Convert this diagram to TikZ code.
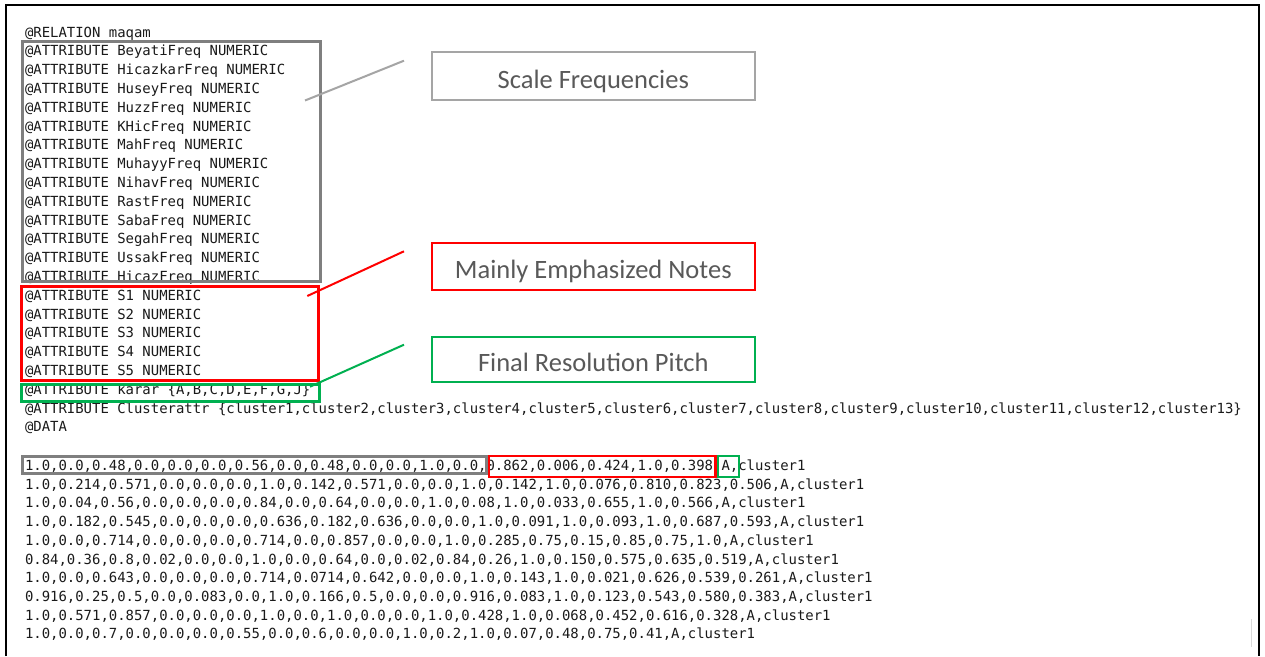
\documentclass[tikz,border=0pt]{standalone}
\usepackage{fontspec}
\newfontfamily\codefont{DejaVu Sans Mono}
\newfontfamily\labelfont{Carlito}
\definecolor{boxgray}{HTML}{7F7F7F}
\definecolor{lightgray2}{HTML}{A5A5A5}
\definecolor{mred}{HTML}{FF0000}
\definecolor{mgreen}{HTML}{00B050}
\definecolor{labeltext}{HTML}{595959}
\definecolor{codetext}{HTML}{1A1A1A}
\tikzset{
  code/.style={font=\codefont\fontsize{13.94}{16}\selectfont, text=codetext, anchor=base west, inner sep=0pt, outer sep=0pt},
  labelbox/.style={draw, line width=2pt, minimum width=323, inner sep=0pt,
    text height=24pt, text depth=0pt,
    font=\labelfont\fontsize{26.5}{30}\selectfont, text=labeltext},
  hlbox/.style={line width=3pt},
  leader/.style={line width=2pt},
}
\begin{document}
\begin{tikzpicture}[x=1pt,y=-1pt]
\useasboundingbox (0,0) rectangle (1265,656);
\fill[white] (0,0) rectangle (1265,656);

% outer frame
\draw[line width=2pt, black] (6,656) -- (6,5) -- (1259.3,5) -- (1259.3,656);
\draw[line width=1.5pt, black!15] (1251.7,619) -- (1251.7,647);

% header lines
\node[code] (h1)  at (25, 37.0)  {@RELATION maqam};
\node[code] (h2)  at (25, 55.8)  {@ATTRIBUTE BeyatiFreq NUMERIC};
\node[code] (h3)  at (25, 74.6)  {@ATTRIBUTE HicazkarFreq NUMERIC};
\node[code] (h4)  at (25, 93.4)  {@ATTRIBUTE HuseyFreq NUMERIC};
\node[code] (h5)  at (25, 112.2) {@ATTRIBUTE HuzzFreq NUMERIC};
\node[code] (h6)  at (25, 131.0) {@ATTRIBUTE KHicFreq NUMERIC};
\node[code] (h7)  at (25, 149.8) {@ATTRIBUTE MahFreq NUMERIC};
\node[code] (h8)  at (25, 168.6) {@ATTRIBUTE MuhayyFreq NUMERIC};
\node[code] (h9)  at (25, 187.4) {@ATTRIBUTE NihavFreq NUMERIC};
\node[code] (h10) at (25, 206.2) {@ATTRIBUTE RastFreq NUMERIC};
\node[code] (h11) at (25, 225.0) {@ATTRIBUTE SabaFreq NUMERIC};
\node[code] (h12) at (25, 243.8) {@ATTRIBUTE SegahFreq NUMERIC};
\node[code] (h13) at (25, 262.6) {@ATTRIBUTE UssakFreq NUMERIC};
\node[code] (h14) at (25, 281.4) {@ATTRIBUTE HicazFreq NUMERIC};
\node[code] (h15) at (25, 300.2) {@ATTRIBUTE S1 NUMERIC};
\node[code] (h16) at (25, 319.0) {@ATTRIBUTE S2 NUMERIC};
\node[code] (h17) at (25, 337.8) {@ATTRIBUTE S3 NUMERIC};
\node[code] (h18) at (25, 356.6) {@ATTRIBUTE S4 NUMERIC};
\node[code] (h19) at (25, 375.4) {@ATTRIBUTE S5 NUMERIC};
\node[code] (h20) at (25, 394.2) {@ATTRIBUTE karar \{A,B,C,D,E,F,G,J\}};
\node[code] (h21) at (25, 413.0) {@ATTRIBUTE Clusterattr \{cluster1,cluster2,cluster3,cluster4,cluster5,cluster6,cluster7,cluster8,cluster9,cluster10,cluster11,cluster12,cluster13\}};
\node[code] (h22) at (25, 431.8) {@DATA};

% data lines
\node[code] (d1)  at (25, 470.5) {1.0,0.0,0.48,0.0,0.0,0.0,0.56,0.0,0.48,0.0,0.0,1.0,0.0,0.862,0.006,0.424,1.0,0.398,A,cluster1};
\node[code] (d2)  at (25, 489.2) {1.0,0.214,0.571,0.0,0.0,0.0,1.0,0.142,0.571,0.0,0.0,1.0,0.142,1.0,0.076,0.810,0.823,0.506,A,cluster1};
\node[code] (d3)  at (25, 507.9) {1.0,0.04,0.56,0.0,0.0,0.0,0.84,0.0,0.64,0.0,0.0,1.0,0.08,1.0,0.033,0.655,1.0,0.566,A,cluster1};
\node[code] (d4)  at (25, 526.6) {1.0,0.182,0.545,0.0,0.0,0.0,0.636,0.182,0.636,0.0,0.0,1.0,0.091,1.0,0.093,1.0,0.687,0.593,A,cluster1};
\node[code] (d5)  at (25, 545.3) {1.0,0.0,0.714,0.0,0.0,0.0,0.714,0.0,0.857,0.0,0.0,1.0,0.285,0.75,0.15,0.85,0.75,1.0,A,cluster1};
\node[code] (d6)  at (25, 564.0) {0.84,0.36,0.8,0.02,0.0,0.0,1.0,0.0,0.64,0.0,0.02,0.84,0.26,1.0,0.150,0.575,0.635,0.519,A,cluster1};
\node[code] (d7)  at (25, 582.7) {1.0,0.0,0.643,0.0,0.0,0.0,0.714,0.0714,0.642,0.0,0.0,1.0,0.143,1.0,0.021,0.626,0.539,0.261,A,cluster1};
\node[code] (d8)  at (25, 601.4) {0.916,0.25,0.5,0.0,0.083,0.0,1.0,0.166,0.5,0.0,0.0,0.916,0.083,1.0,0.123,0.543,0.580,0.383,A,cluster1};
\node[code] (d9)  at (25, 620.1) {1.0,0.571,0.857,0.0,0.0,0.0,1.0,0.0,1.0,0.0,0.0,1.0,0.428,1.0,0.068,0.452,0.616,0.328,A,cluster1};
\node[code] (d10) at (25, 638.8) {1.0,0.0,0.7,0.0,0.0,0.0,0.55,0.0,0.6,0.0,0.0,1.0,0.2,1.0,0.07,0.48,0.75,0.41,A,cluster1};

% highlight boxes in the header
\draw[hlbox, boxgray] (22,41.3) rectangle (320.5,281.7);
\draw[hlbox, mred] (21,286.7) rectangle (318.7,380);
\draw[line width=2.5pt, mgreen] (21.3,384.3) rectangle (319.5,401.3);

% highlight boxes in the first data row
\draw[hlbox, boxgray] (22.8,456) rectangle (486.7,473.5);
\draw[line width=2.2pt, mred] (488.8,455.8) rectangle (715.5,476.8);
\draw[line width=2.2pt, mgreen] (717.7,455.8) rectangle (739,477);

% label boxes
\node[labelbox, draw=lightgray2, minimum height=48] (scale) at (593.3,76) {Scale Frequencies};
\node[labelbox, draw=mred, minimum height=47] (notes) at (593.3,266.2) {Mainly Emphasized Notes};
\node[labelbox, draw=mgreen, minimum height=45.6] (pitch) at (593.3,359.5) {Final Resolution Pitch};

% leader lines
\coordinate (sA) at (305,100.5);  \coordinate (sB) at (404,60.7);
\coordinate (nA) at (307.3,296);  \coordinate (nB) at (404,251.3);
\coordinate (pA) at (310,386.7);  \coordinate (pB) at (404,344.7);
\draw[leader, lightgray2] (sA) -- (sB);
\draw[leader, mred] (nA) -- (nB);
\draw[leader, mgreen] (pA) -- (pB);
\end{tikzpicture}
\end{document}
